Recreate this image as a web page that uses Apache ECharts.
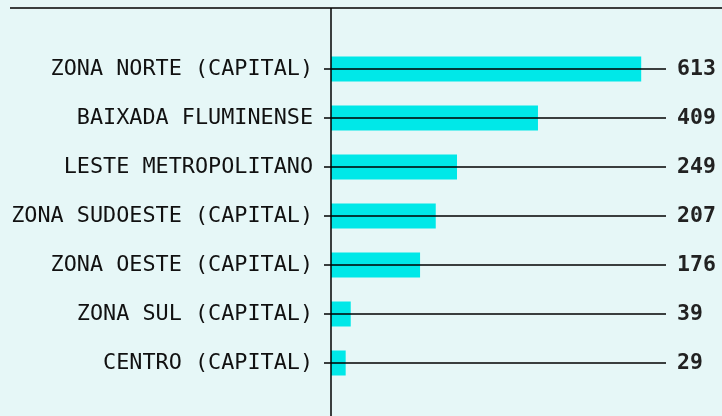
<!DOCTYPE html>
<html>
<head>
<meta charset="utf-8">
<script src="https://cdn.jsdelivr.net/npm/echarts@6/dist/echarts.min.js"></script>
<style>
html, body { margin: 0; padding: 0; background: #e6f7f7; }
#main { width: 722px; height: 416px; }
</style>
</head>
<body>
<div id="main"></div>
<script>
var categorias = ['ZONA NORTE (CAPITAL)', 'BAIXADA FLUMINENSE', 'LESTE METROPOLITANO',
    'ZONA SUDOESTE (CAPITAL)', 'ZONA OESTE (CAPITAL)', 'ZONA SUL (CAPITAL)', 'CENTRO (CAPITAL)'];
var valores = [613, 409, 249, 207, 176, 39, 29];

var myChart = echarts.init(document.getElementById('main'));

myChart.setOption({
    backgroundColor: '#e6f7f7',
    animation: false,
    grid: { left: 331, right: 56, top: 44.5, bottom: 28.5 },
    xAxis: {
        type: 'value',
        min: 0,
        max: 662,
        show: false
    },
    yAxis: [
        {
            type: 'category',
            data: categorias,
            inverse: true,
            axisLine: { show: false },
            axisTick: { show: true, length: 7, alignWithLabel: true, lineStyle: { color: '#000', width: 1.5 } },
            axisLabel: { margin: 18, fontFamily: 'DejaVu Sans Mono', fontSize: 21.8, color: '#111' }
        },
        {
            // valores na direita
            type: 'category',
            position: 'right',
            data: valores.map(String),
            inverse: true,
            axisLine: { show: false },
            axisTick: { show: false },
            axisLabel: { margin: 11, fontFamily: 'DejaVu Sans Mono', fontWeight: 'bold', fontSize: 21.5, color: '#222' }
        }
    ],
    graphic: [
        { type: 'line', shape: { x1: 10, y1: 8, x2: 722, y2: 8 }, style: { stroke: '#000', lineWidth: 1.5 }, z: 100 },
        { type: 'line', shape: { x1: 331, y1: 8, x2: 331, y2: 416 }, style: { stroke: '#000', lineWidth: 1.5 }, z: 100 }
    ],
    series: [
        {
            type: 'bar',
            data: valores,
            barWidth: 25,
            itemStyle: { color: '#00e8e8' },
            markLine: {
                silent: true,
                symbol: 'none',
                label: { show: false },
                lineStyle: { color: '#000', width: 1.5, type: 'solid' },
                data: categorias.map(function (c) { return { yAxis: c }; })
            }
        }
    ]
});
</script>
</body>
</html>
